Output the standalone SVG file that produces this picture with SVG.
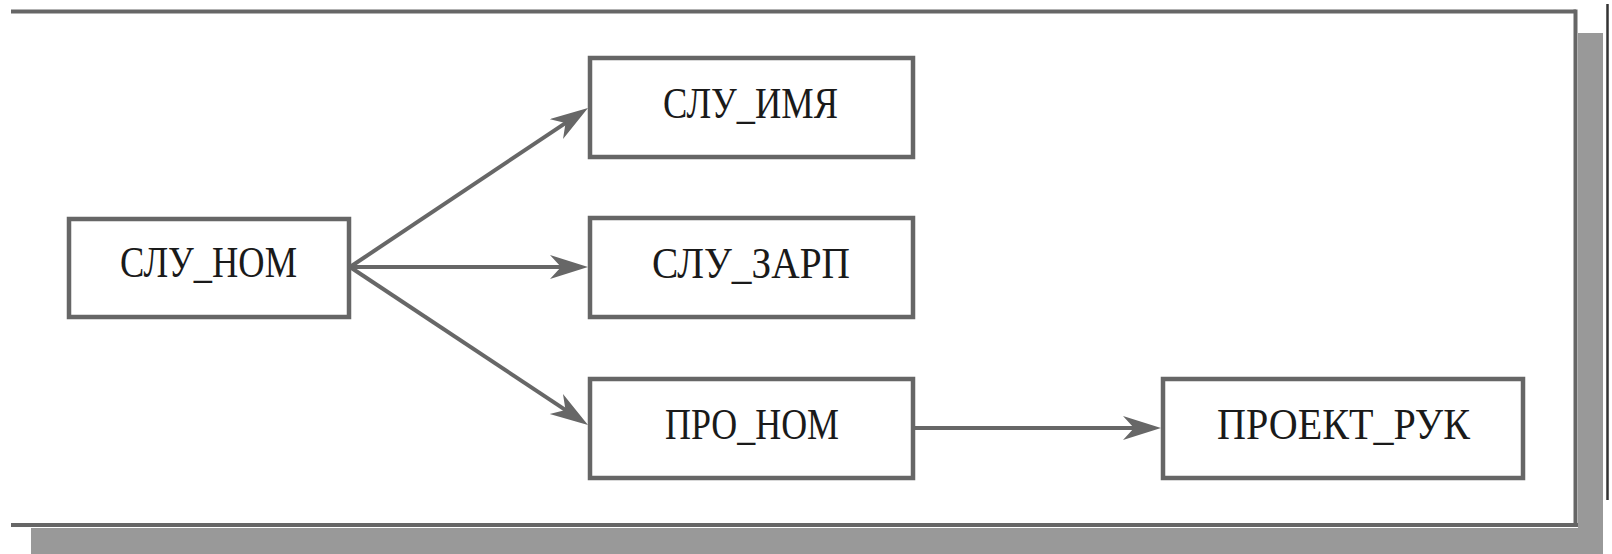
<svg xmlns="http://www.w3.org/2000/svg" width="1612" height="554" viewBox="0 0 1612 554">
<defs>
<style>
.box{fill:#fff;stroke:#666;stroke-width:4.5}
.lbl{font-family:"Liberation Serif","Times New Roman",serif;font-size:44px;fill:#1a1a1a;text-anchor:middle}
.edge{stroke:#676767;stroke-width:4;fill:none}
</style>
<marker id="ah" markerUnits="userSpaceOnUse" markerWidth="40" markerHeight="26" refX="23" refY="12" orient="auto">
<path d="M38,12 L0,0 L11,12 L0,24 Z" fill="#676767"/>
</marker>
</defs>
<rect x="0" y="0" width="1612" height="554" fill="#fff"/>
<g id="frame">
<rect x="31" y="528" width="1572" height="26" fill="#999"/>
<rect x="1578" y="33" width="25" height="521" fill="#999"/>
<rect x="11" y="11" width="1563" height="514" fill="#fff"/>
<line x1="11" y1="11.5" x2="1576" y2="11.5" stroke="#666" stroke-width="4"/>
<line x1="11" y1="525" x2="1578" y2="525" stroke="#666" stroke-width="4"/>
<line x1="1575.5" y1="9.5" x2="1575.5" y2="527" stroke="#666" stroke-width="4"/>
<line x1="1607.5" y1="4" x2="1607.5" y2="500" stroke="#333" stroke-width="2.5"/>
</g>
<g id="connectors">
<line class="edge" x1="350" y1="267" x2="575.5" y2="116.3" marker-end="url(#ah)"/>
<line class="edge" x1="350" y1="267" x2="573" y2="267" marker-end="url(#ah)"/>
<line class="edge" x1="350" y1="267" x2="575.5" y2="416.7" marker-end="url(#ah)"/>
<line class="edge" x1="913" y1="428" x2="1146" y2="428" marker-end="url(#ah)"/>
</g>
<g id="n_slu_nom">
<rect class="box" x="69" y="219" width="280" height="98"/>
<text class="lbl" x="208.5" y="277" textLength="177" lengthAdjust="spacingAndGlyphs">СЛУ_НОМ</text>
</g>
<g id="n_slu_imya">
<rect class="box" x="590" y="58" width="323" height="99"/>
<text class="lbl" x="750.5" y="118" textLength="175" lengthAdjust="spacingAndGlyphs">СЛУ_ИМЯ</text>
</g>
<g id="n_slu_zarp">
<rect class="box" x="590" y="218" width="323" height="99"/>
<text class="lbl" x="751" y="278" textLength="198" lengthAdjust="spacingAndGlyphs">СЛУ_ЗАРП</text>
</g>
<g id="n_pro_nom">
<rect class="box" x="590" y="379" width="323" height="99"/>
<text class="lbl" x="752" y="439" textLength="174" lengthAdjust="spacingAndGlyphs">ПРО_НОМ</text>
</g>
<g id="n_proekt_ruk">
<rect class="box" x="1163" y="379" width="360" height="99"/>
<text class="lbl" x="1343.5" y="439" textLength="253" lengthAdjust="spacingAndGlyphs">ПРОЕКТ_РУК</text>
</g>
</svg>
